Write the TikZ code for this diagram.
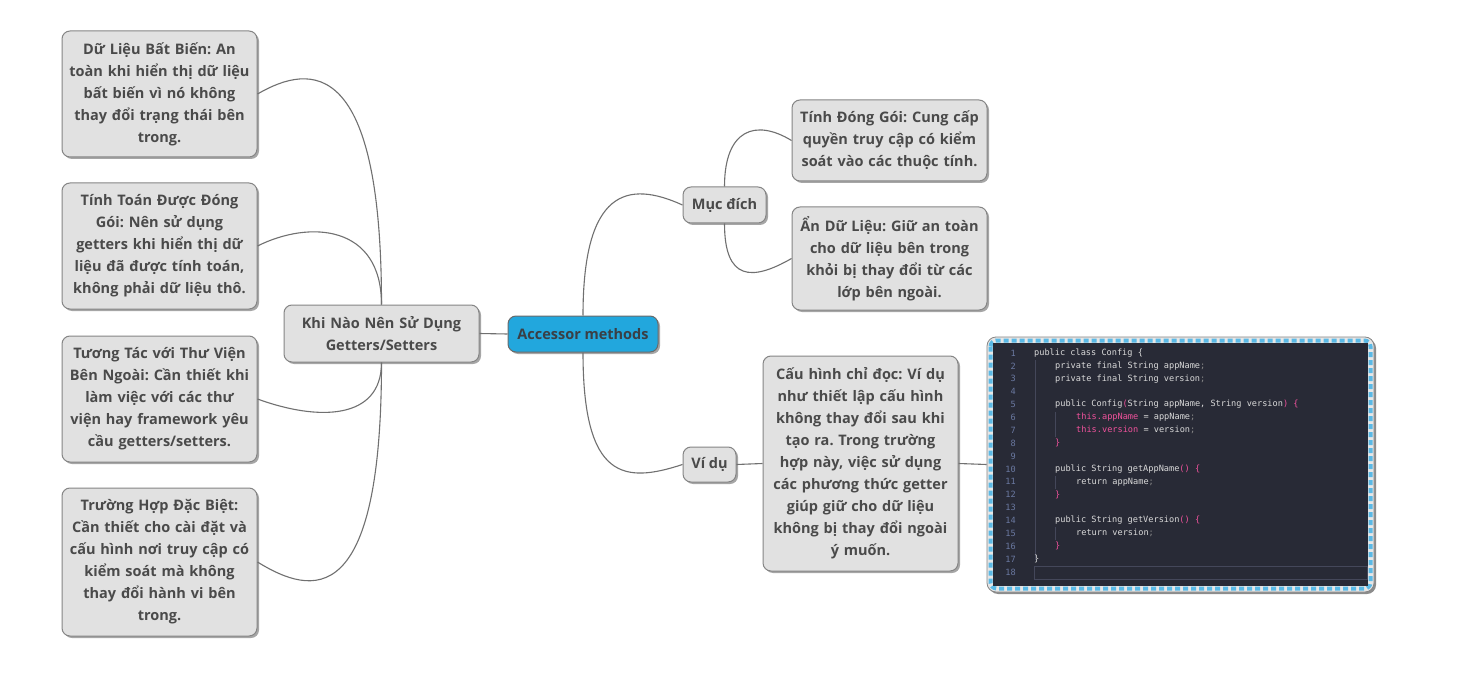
\documentclass[tikz,border=0pt]{standalone}
\usepackage{fontspec}
\setmainfont{Open Sans}
\newfontfamily\codefont{DejaVu Sans Mono}
\usetikzlibrary{shadows}
\frenchspacing
\definecolor{boxfill}{HTML}{E1E1E1}
\definecolor{boxline}{HTML}{858585}
\definecolor{txt}{HTML}{4A4A4A}
\definecolor{linkc}{HTML}{707070}
\definecolor{rootfill}{HTML}{22A7DD}
\definecolor{roottxt}{HTML}{3A3F45}
\definecolor{codebg}{HTML}{282A36}
\definecolor{codefg}{HTML}{DADADA}
\definecolor{codepink}{HTML}{F0529C}
\definecolor{codesemi}{HTML}{8A8A8A}
\definecolor{codenum}{HTML}{6A78A0}
\definecolor{codeguide}{HTML}{44475A}
\definecolor{dashblue}{HTML}{5AB9E6}
\definecolor{framefill}{HTML}{E6E6E6}
\newcommand{\pk}[1]{\textcolor{codepink}{#1}}
\newcommand{\sm}{\textcolor{codesemi}{;}}
\tikzset{
  topicbox/.style={draw=boxline, line width=1pt, fill=boxfill, rounded corners=8pt,
    text=txt, font=\fontsize{14.5}{22}\selectfont\bfseries, align=center, inner sep=0pt,
    drop shadow={shadow xshift=2pt, shadow yshift=-2pt, fill=black, opacity=0.35}},
  rootbox/.style={topicbox, fill=rootfill, draw=boxline!80!black, text=roottxt},
  link/.style={draw=linkc, line width=1.1pt},
  codeline/.style={anchor=west, inner sep=0pt, text=codefg, font=\codefont\fontsize{8.6}{10}\selectfont},
  codenumber/.style={anchor=east, inner sep=0pt, text=codenum, font=\codefont\fontsize{8.6}{10}\selectfont},
}
\begin{document}
\begin{tikzpicture}[x=1pt,y=-1pt]
\useasboundingbox[fill=white] (0,0) rectangle (1467,695);

% root and main branches
\node[rootbox, minimum width=150, minimum height=36] (root) at (583,334) {Accessor methods};
\node[topicbox, text width=195, minimum height=57] (when) at (381.5,333.5) {Khi Nào Nên Sử Dụng\\Getters/Setters};

\node[topicbox, text width=195, minimum height=126] (w1) at (159.5,94) {Dữ Liệu Bất Biến: An\\toàn khi hiển thị dữ liệu\\bất biến vì nó không\\thay đổi trạng thái bên\\trong.};
\node[topicbox, text width=195, minimum height=126] (w2) at (159.5,246) {Tính Toán Được Đóng\\Gói: Nên sử dụng\\getters khi hiển thị dữ\\liệu đã được tính toán,\\không phải dữ liệu thô.};
\node[topicbox, text width=195, minimum height=126] (w3) at (159.5,399) {Tương Tác với Thư Viện\\Bên Ngoài: Cần thiết khi\\làm việc với các thư\\viện hay framework yêu\\cầu getters/setters.};
\node[topicbox, text width=195, minimum height=148] (w4) at (159.5,562) {Trường Hợp Đặc Biệt:\\Cần thiết cho cài đặt và\\cấu hình nơi truy cập có\\kiểm soát mà không\\thay đổi hành vi bên\\trong.};

\node[topicbox, minimum width=83, minimum height=36] (purpose) at (724.5,205) {Mục đích};
\node[topicbox, text width=195, minimum height=81] (p1) at (889.5,140.5) {Tính Đóng Gói: Cung cấp\\quyền truy cập có kiểm\\soát vào các thuộc tính.};
\node[topicbox, text width=195, minimum height=103] (p2) at (889.5,258.5) {Ẩn Dữ Liệu: Giữ an toàn\\cho dữ liệu bên trong\\khỏi bị thay đổi từ các\\lớp bên ngoài.};

\node[topicbox, minimum width=53, minimum height=35] (example) at (709.5,464.5) {Ví dụ};
\node[topicbox, text width=195, minimum height=215] (e1) at (860.5,463.5) {Cấu hình chỉ đọc: Ví dụ\\như thiết lập cấu hình\\không thay đổi sau khi\\tạo ra. Trong trường\\hợp này, việc sử dụng\\các phương thức getter\\giúp giữ cho dữ liệu\\không bị thay đổi ngoài\\ý muốn.};

% code image
\node[draw=boxline, line width=0.8pt, fill=framefill, rounded corners=9pt, minimum width=387, minimum height=255, inner sep=0pt,
  drop shadow={shadow xshift=2pt, shadow yshift=-2pt, fill=black, opacity=0.45}] (code) at (1180.5,464.5) {};
\draw[dashblue, line width=4pt, dash pattern=on 5pt off 3pt, rounded corners=6pt] (990.5,340.5) rectangle (1370.5,588.5);
\fill[codebg] (993,343) rectangle (1368,586);

% code contents
\draw[codeguide, line width=0.6pt] (1035,360) -- (1035,560);
\draw[codeguide, line width=0.6pt] (1055,412) -- (1055,437);
\draw[codeguide, line width=0.6pt] (1055,476) -- (1055,489);
\draw[codeguide, line width=0.6pt] (1055,527) -- (1055,540);
\draw[codeguide, line width=0.7pt] (1034,566) rectangle (1367,579);
\foreach \n in {1,...,18}{
  \node[codenumber] (ln\n) at (1016,{353+(\n-1)*12.88}) {\n};
}
\node[codeline] (c1) at (1034,353) {public class Config \{};
\node[codeline] (c2) at (1055,365.88) {private final String appName\sm};
\node[codeline] (c3) at (1055,378.76) {private final String version\sm};
\node[codeline] (c5) at (1055,404.52) {public Config\pk{(}String appName, String version\pk{)} \pk{\{}};
\node[codeline] (c6) at (1076,417.40) {\pk{this.appName} = appName\sm};
\node[codeline] (c7) at (1076,430.28) {\pk{this.version} = version\sm};
\node[codeline] (c8) at (1055,443.16) {\pk{\}}};
\node[codeline] (c10) at (1055,468.92) {public String getAppName\pk{()} \pk{\{}};
\node[codeline] (c11) at (1076,481.80) {return appName\sm};
\node[codeline] (c12) at (1055,494.68) {\pk{\}}};
\node[codeline] (c14) at (1055,520.44) {public String getVersion\pk{()} \pk{\{}};
\node[codeline] (c15) at (1076,533.32) {return version\sm};
\node[codeline] (c16) at (1055,546.20) {\pk{\}}};
\node[codeline] (c17) at (1034,559.08) {\}};

% connectors
\draw[link] (when.east) -- (root.west);
\draw[link] (when.north) .. controls +(0,-245) and +(55,-32) .. (w1.east);
\draw[link] (when.north) .. controls +(0,-80) and +(52,-26) .. (w2.east);
\draw[link] (when.south) .. controls +(0,58) and +(60,22) .. (w3.east);
\draw[link] (when.south) .. controls +(0,248) and +(55,34) .. (w4.east);
\draw[link] (root.north) .. controls +(0,-126) and +(-55,-25) .. (purpose.west);
\draw[link] (purpose.north) .. controls +(0,-57) and +(-36,-22) .. (p1.west);
\draw[link] (purpose.south) .. controls +(0,57) and +(-40,23) .. (p2.west);
\draw[link] (root.south) .. controls +(0,128) and +(-58,19) .. (example.west);
\draw[link] (example.east) -- (e1.west);
\draw[link] (e1.east) -- (code.west);
\end{tikzpicture}
\end{document}
